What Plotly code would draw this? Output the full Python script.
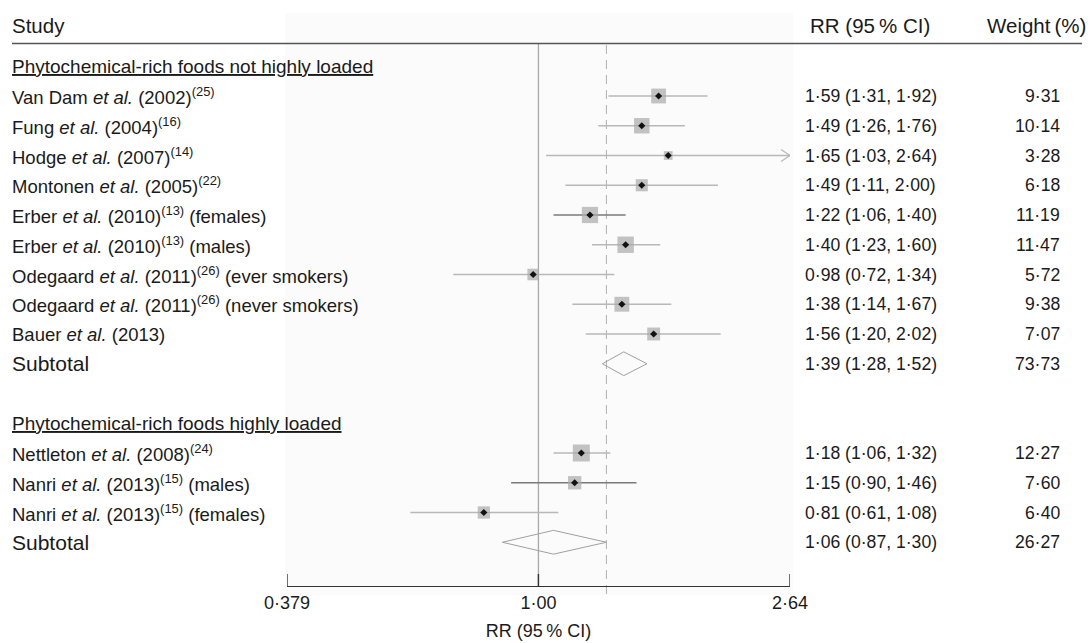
import math
import plotly.graph_objects as go

# ---------------- data ----------------
group1_title = "Phytochemical-rich foods not highly loaded"
group1_labels = [
    "Van Dam <i>et al.</i> (2002)<sup>(25)</sup>",
    "Fung <i>et al.</i> (2004)<sup>(16)</sup>",
    "Hodge <i>et al.</i> (2007)<sup>(14)</sup>",
    "Montonen <i>et al.</i> (2005)<sup>(22)</sup>",
    "Erber <i>et al.</i> (2010)<sup>(13)</sup> (females)",
    "Erber <i>et al.</i> (2010)<sup>(13)</sup> (males)",
    "Odegaard <i>et al.</i> (2011)<sup>(26)</sup> (ever smokers)",
    "Odegaard <i>et al.</i> (2011)<sup>(26)</sup> (never smokers)",
    "Bauer <i>et al.</i> (2013)",
]
group1_rr = [1.59, 1.49, 1.65, 1.49, 1.22, 1.40, 0.98, 1.38, 1.56]
group1_lo = [1.31, 1.26, 1.03, 1.11, 1.06, 1.23, 0.72, 1.14, 1.20]
group1_hi = [1.92, 1.76, 2.64, 2.00, 1.40, 1.60, 1.34, 1.67, 2.02]
group1_w = [9.31, 10.14, 3.28, 6.18, 11.19, 11.47, 5.72, 9.38, 7.07]
group1_sub = (1.39, 1.28, 1.52, 73.73)

group2_title = "Phytochemical-rich foods highly loaded"
group2_labels = [
    "Nettleton <i>et al.</i> (2008)<sup>(24)</sup>",
    "Nanri <i>et al.</i> (2013)<sup>(15)</sup> (males)",
    "Nanri <i>et al.</i> (2013)<sup>(15)</sup> (females)",
]
group2_rr = [1.18, 1.15, 0.81]
group2_lo = [1.06, 0.90, 0.61]
group2_hi = [1.32, 1.46, 1.08]
group2_w = [12.27, 7.60, 6.40]
group2_sub = (1.06, 0.87, 1.30, 26.27)

overall_rr = 1.30
tick_vals = [0.379, 1.00, 2.64]
tick_text = ["0·379", "1·00", "2·64"]

# ---------------- layout helpers ----------------
W, H = 1092, 643
ROW0, ROWH = 36.5, 29.75  # pixel y of row 0 and row height
AXIS_PX = 586


def prow(px):
    return (px - ROW0) / ROWH


FONT = "Liberation Sans, Arial, Helvetica, sans-serif"
TXT = "#1a1a1a"
F_HEAD, F_TITLE, F_ROW, F_NUM, F_SUB = 20.5, 19, 18.5, 17.6, 21
X_LEFT, X_RR, X_W = 10, 803, 1062


def fmt(v):
    return f"{v:.2f}".replace(".", "·")


fig = go.Figure()
ann = []
shapes = []

# faint plot-region background
shapes.append(dict(type="rect", xref="paper", yref="paper",
                   x0=285 / W, x1=793 / W, y0=1 - 595 / H, y1=1 - 13 / H,
                   fillcolor="#fbfbfb", line=dict(width=0), layer="below"))

# header
head_row = prow(25)
ann.append(dict(x=X_LEFT / W, y=head_row, xref="paper", yref="y", text="Study", showarrow=False,
                xanchor="left", yanchor="middle", font=dict(size=F_HEAD)))
ann.append(dict(x=870 / W, y=head_row, xref="paper", yref="y", text="RR (95\u2009% CI)", showarrow=False,
                xanchor="center", yanchor="middle", font=dict(size=F_HEAD)))
ann.append(dict(x=1088 / W, y=head_row, xref="paper", yref="y", text="Weight\u2009(%)", showarrow=False,
                xanchor="right", yanchor="middle", font=dict(size=F_HEAD)))
shapes.append(dict(type="line", xref="paper", yref="y", x0=12 / W, x1=1082 / W,
                   y0=prow(43.5), y1=prow(43.5), line=dict(color="#555555", width=1.5)))

# reference lines
shapes.append(dict(type="line", xref="x", yref="y", x0=1, x1=1, y0=prow(43.5), y1=prow(AXIS_PX),
                   line=dict(color="#a8a8a8", width=1.3), layer="below"))
shapes.append(dict(type="line", xref="x", yref="y", x0=overall_rr, x1=overall_rr, y0=prow(45),
                   y1=prow(598), line=dict(color="#b0b0b0", width=1, dash="9px,6px"), layer="below"))

# axis tick marks (pointing up from the axis line)
for tv in tick_vals:
    shapes.append(dict(type="line", xref="x", yref="y", x0=tv, x1=tv, y0=prow(AXIS_PX),
                       y1=prow(AXIS_PX - 12), line=dict(color="#333333", width=1.4)))


def add_group(title, title_row, labels, rr, lo, hi, w, sub, darker=()):
    ann.append(dict(x=X_LEFT / W, y=title_row, xref="paper", yref="y",
                    text=f"<span style='text-decoration:underline'>{title}</span>",
                    showarrow=False, xanchor="left", yanchor="middle", font=dict(size=F_TITLE)))
    rows = [title_row + 1 + i for i in range(len(labels))]
    for i, r in enumerate(rows):
        ann.append(dict(x=X_LEFT / W, y=r, xref="paper", yref="y", text=labels[i], showarrow=False,
                        xanchor="left", yanchor="middle", font=dict(size=F_ROW)))
        ann.append(dict(x=X_RR / W, y=r, xref="paper", yref="y",
                        text=f"{fmt(rr[i])} ({fmt(lo[i])}, {fmt(hi[i])})", showarrow=False,
                        xanchor="left", yanchor="middle", font=dict(size=F_NUM)))
        ann.append(dict(x=X_W / W, y=r, xref="paper", yref="y", text=fmt(w[i]), showarrow=False,
                        xanchor="right", yanchor="middle", font=dict(size=F_NUM)))
        col = "#7a7a7a" if i in darker else "#b8b8b8"
        fig.add_trace(go.Scatter(x=[lo[i], hi[i]], y=[r, r], mode="lines",
                                 line=dict(color=col, width=1.4), hoverinfo="skip"))
        if hi[i] >= tick_vals[-1]:
            f = math.exp(-9 / 259.5)
            fig.add_trace(go.Scatter(x=[hi[i] * f, hi[i], hi[i] * f], y=[r - 0.2, r, r + 0.2],
                                     mode="lines", line=dict(color="#b8b8b8", width=1.3),
                                     hoverinfo="skip"))
    fig.add_trace(go.Scatter(x=rr, y=rows, mode="markers",
                             marker=dict(symbol="square", color="#aaaaaa",
                                         size=[4.85 * math.sqrt(v) for v in w],
                                         line=dict(width=0)), hoverinfo="skip"))
    fig.add_trace(go.Scatter(x=rr, y=rows, mode="markers",
                             marker=dict(symbol="diamond", color="#111111", size=5.5,
                                         line=dict(width=0)), hoverinfo="skip"))
    srow = rows[-1] + 1
    s_rr, s_lo, s_hi, s_w = sub
    fig.add_trace(go.Scatter(x=[s_lo, s_rr, s_hi, s_rr, s_lo], y=[srow, srow - 0.4, srow, srow + 0.4, srow],
                             mode="lines", line=dict(color="#a0a0a0", width=1), hoverinfo="skip"))
    ann.append(dict(x=X_LEFT / W, y=srow, xref="paper", yref="y", text="Subtotal", showarrow=False,
                    xanchor="left", yanchor="middle", font=dict(size=F_SUB)))
    ann.append(dict(x=X_RR / W, y=srow, xref="paper", yref="y",
                    text=f"{fmt(s_rr)} ({fmt(s_lo)}, {fmt(s_hi)})", showarrow=False,
                    xanchor="left", yanchor="middle", font=dict(size=F_NUM)))
    ann.append(dict(x=X_W / W, y=srow, xref="paper", yref="y", text=fmt(s_w), showarrow=False,
                    xanchor="right", yanchor="middle", font=dict(size=F_NUM)))
    return srow


end1 = add_group(group1_title, 1, group1_labels, group1_rr, group1_lo, group1_hi, group1_w,
                 group1_sub, darker=(4,))
add_group(group2_title, end1 + 2, group2_labels, group2_rr, group2_lo, group2_hi, group2_w,
          group2_sub, darker=(1,))

lo_log = math.log10(tick_vals[0])
hi_log = math.log10(tick_vals[-1])

fig.update_layout(
    width=W, height=H,
    margin=dict(l=0, r=0, t=0, b=0),
    paper_bgcolor="white", plot_bgcolor="rgba(0,0,0,0)",
    showlegend=False,
    font=dict(family=FONT, color=TXT),
    annotations=ann, shapes=shapes,
    xaxis=dict(type="log", range=[lo_log, hi_log], domain=[287 / W, 790 / W],
               anchor="free", position=1 - AXIS_PX / H,
               tickvals=tick_vals, ticktext=tick_text, ticks="",
               showline=True, linecolor="#333333", linewidth=1.4, showgrid=False,
               zeroline=False, tickfont=dict(size=18),
               title=dict(text="RR (95\u2009% CI)", font=dict(size=18), standoff=12),
               automargin=False),
    yaxis=dict(range=[prow(H), prow(0)], domain=[0, 1], visible=False, showgrid=False,
               zeroline=False, fixedrange=True),
)

fig.write_html("out.html", config={"displayModeBar": False},
               post_script="document.body.style.margin='0';")
